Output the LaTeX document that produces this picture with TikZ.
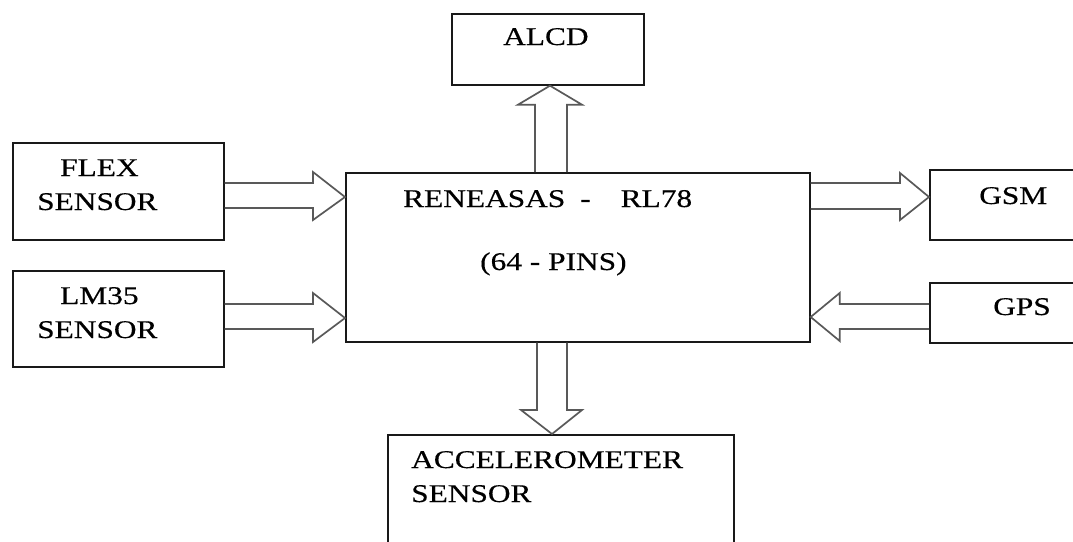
\documentclass[tikz,border=0pt]{standalone}
\usepackage{fontspec}
\setmainfont{Liberation Serif}[FakeStretch=1.23,FakeBold=0.4]
\usetikzlibrary{calc}
\begin{document}
\begin{tikzpicture}[x=1pt,y=-1pt,
  box/.style={draw=black!90, line width=1.7pt, inner sep=0pt, anchor=north west},
  lbl/.style={anchor=base west, inner sep=0pt, font=\fontsize{25.5}{30}\selectfont},
  barrow/.style={draw=black!65, line width=1.7pt, line join=miter}]
\useasboundingbox (0,0) rectangle (1073,541);
\clip (0,0) rectangle (1073,541);
% boxes
\node[box, minimum width=211pt, minimum height=97pt] (flex) at (12,142) {};
\node[box, minimum width=211pt, minimum height=96pt] (lm) at (12,270) {};
\node[box, minimum width=464pt, minimum height=169pt] (main) at (345,172) {};
\node[box, minimum width=192pt, minimum height=71pt] (alcd) at (451,13) {};
\node[box, minimum width=170pt, minimum height=70pt] (gsm) at (929,169) {};
\node[box, minimum width=170pt, minimum height=60pt] (gps) at (929,282) {};
\node[box, minimum width=346pt, minimum height=140pt] (acc) at (387,434) {};
% block arrows
\draw[barrow] let \p1=(flex.east), \p2=(main.west) in
  (\x1,-183pt) -- (\x2-32pt,-183pt) -- (\x2-32pt,-172pt) -- (\x2,-197pt)
  -- (\x2-32pt,-220pt) -- (\x2-32pt,-208pt) -- (\x1,-208pt);
\draw[barrow] let \p1=(lm.east), \p2=(main.west) in
  (\x1,-304pt) -- (\x2-32pt,-304pt) -- (\x2-32pt,-293pt) -- (\x2,-318pt)
  -- (\x2-32pt,-342pt) -- (\x2-32pt,-329pt) -- (\x1,-329pt);
\draw[barrow] let \p1=(main.east), \p2=(gsm.west) in
  (\x1,-183pt) -- (\x2-29pt,-183pt) -- (\x2-29pt,-173pt) -- (\x2,-197pt)
  -- (\x2-29pt,-220pt) -- (\x2-29pt,-209pt) -- (\x1,-209pt);
\draw[barrow] let \p1=(gps.west), \p2=(main.east) in
  (\x1,-304pt) -- (\x2+29pt,-304pt) -- (\x2+29pt,-293pt) -- (\x2,-317pt)
  -- (\x2+29pt,-341pt) -- (\x2+29pt,-329pt) -- (\x1,-329pt);
\draw[barrow] let \p1=(main.north), \p2=(alcd.south) in
  (535pt,\y1) -- (535pt,\y2-19pt) -- (518pt,\y2-19pt) -- (550pt,\y2)
  -- (582pt,\y2-19pt) -- (567pt,\y2-19pt) -- (567pt,\y1);
\draw[barrow] let \p1=(main.south), \p2=(acc.north) in
  (537pt,\y1) -- (537pt,\y2+24pt) -- (521pt,\y2+24pt) -- (552pt,\y2)
  -- (582pt,\y2+24pt) -- (567pt,\y2+24pt) -- (567pt,\y1);
% labels
\node[lbl] (t1) at (60,176) {FLEX};
\node[lbl] (t2) at (37,210) {SENSOR};
\node[lbl] (t3) at (60,304) {LM35};
\node[lbl] (t4) at (37,338) {SENSOR};
\node[lbl] (t5) at (503,45) {ALCD};
\node[lbl] (t6) at (403,207) {RENEASAS\hspace{15pt}-\hspace{30pt}RL78};
\node[lbl] (t7) at (480,270) {(64 - PINS)};
\node[lbl] (t8) at (979,204) {GSM};
\node[lbl] (t9) at (993,315) {GPS};
\node[lbl] (t10) at (411,468) {ACCELEROMETER};
\node[lbl] (t11) at (411,502) {SENSOR};
\end{tikzpicture}
\end{document}
